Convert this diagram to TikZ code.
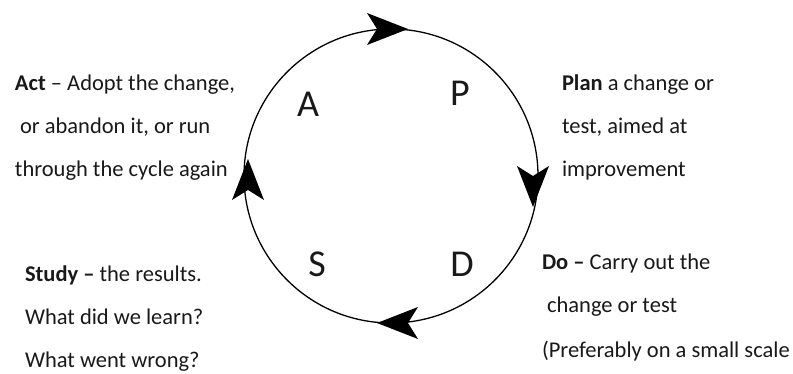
\documentclass[tikz,border=0pt]{standalone}
\usepackage{fontspec}
\setmainfont{Carlito}
\usetikzlibrary{calc}
\begin{document}
\begin{tikzpicture}[x=1pt,y=1pt,
  txt/.style={anchor=base west,inner sep=0pt,outer sep=0pt,text=black!90,font=\fontsize{22.5}{27}\selectfont},
  big/.style={anchor=base,inner sep=0pt,outer sep=0pt,text=black!90,font=\fontsize{38}{44}\selectfont},
  ring/.style={draw=black,line width=1.3pt},
  headfill/.style={fill=black}]
\useasboundingbox (0,0) rectangle (793,374);
% circle
\coordinate (c) at (391,198);
\draw[ring] (c) circle (147);
% arrowheads (clockwise direction)
\foreach \x/\y/\r/\nm in {387/345/0/top,533/188/-90/right,398/51/180/bottom,248/194/90/left}{
  \coordinate (ah\nm) at (\x,\y);
  \fill[headfill,shift={(ah\nm)},rotate=\r] (21,0) -- (-20,16) -- (-10,0) -- (-20,-16) -- cycle;
}
% big letters
\node[big] (A) at (308,257) {A};
\node[big] (P) at (460,268) {P};
\node[big] (S) at (317,97) {S};
\node[big] (D) at (462,97) {D};
% Act
\node[txt] (act1) at (15,283) {\textbf{Act} – Adopt the change,};
\node[txt] (act2) at (15,240) {\ or abandon it, or run};
\node[txt] (act3) at (15,197) {through the cycle again};
% Plan
\node[txt] (plan1) at (562,283) {\textbf{Plan} a change or};
\node[txt] (plan2) at (562,240) {test, aimed at};
\node[txt] (plan3) at (562,197) {improvement};
% Study
\node[txt] (st1) at (25,92) {\textbf{Study –} the results.};
\node[txt] (st2) at (25,49) {What did we learn?};
\node[txt] (st3) at (25,6) {What went wrong?};
% Do
\node[txt] (do1) at (542,104) {\textbf{Do –} Carry out the};
\node[txt] (do2) at (542,61) {\ change or test};
\node[txt] (do3) at (542,16) {(Preferably on a small scale};
\end{tikzpicture}
\end{document}
